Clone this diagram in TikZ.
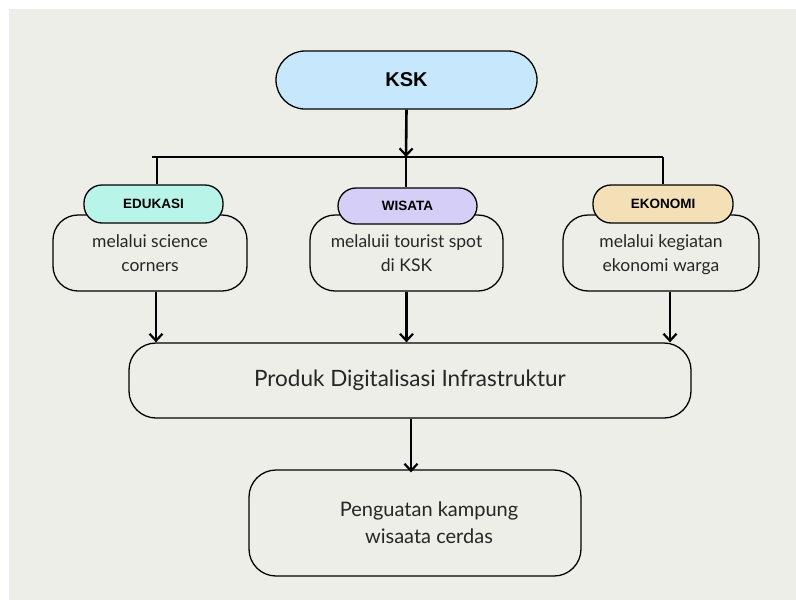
\documentclass[tikz,border=0pt]{standalone}
\usepackage{fontspec}
\setmainfont{Lato}
\newfontfamily\boldf{Liberation Sans}
\usetikzlibrary{arrows.meta}
\definecolor{bg}{HTML}{EEEEE9}
\definecolor{kskc}{HTML}{C6E7FC}
\definecolor{educ}{HTML}{B8F5E8}
\definecolor{wisc}{HTML}{D5CEF7}
\definecolor{ekoc}{HTML}{F3E0B7}
\begin{document}
\begin{tikzpicture}[x=1pt,y=-1pt,
  body/.style={draw, line width=1.3pt, rounded corners=25pt, fill=bg, align=center,
    font=\fontsize{17.5}{24}\selectfont, inner sep=0pt, text=black!85},
  pill/.style={draw, line width=1.3pt, rounded corners=18pt, inner sep=0pt,
    font=\boldf\bfseries\fontsize{13.5}{15}\selectfont, minimum height=38pt, minimum width=139pt},
  bigbox/.style={draw, line width=1.3pt, rounded corners=27pt, fill=bg, align=center, inner sep=0pt,
    text=black!85},
  thin/.style={line width=1.2pt},
  arr/.style={line width=2.6pt, -{Straight Barb[length=7pt,width=13pt,line width=2.2pt]}}
]
\path[use as bounding box] (0,0) rectangle (796,600);
\fill[bg] (9,9) rectangle (796,600);

% top node
\node[draw, line width=1.3pt, rounded corners=29pt, fill=kskc, minimum width=261pt, minimum height=58pt,
  inner sep=0pt, font=\boldf\bfseries\fontsize{20}{24}\selectfont] (ksk) at (406.5,80) {KSK};

% branch coordinates
\coordinate (hl) at (152,157);
\coordinate (hl2) at (157,157);
\coordinate (hm) at (406,157);
\coordinate (hr) at (663,157);

% bodies
\node[body, minimum width=194pt, minimum height=76pt, text depth=-3pt] (edb) at (150,253) {melalui science\\corners};
\node[body, minimum width=193pt, minimum height=76pt, text depth=-3pt] (wib) at (406.5,253) {melaluii tourist spot\\di KSK};
\node[body, minimum width=196pt, minimum height=76pt, text depth=-3pt] (ekb) at (661,253) {melalui kegiatan\\ekonomi warga};

% pills
\node[pill, fill=educ] (edu) at (153.5,204) {EDUKASI};
\node[pill, fill=wisc, minimum height=36pt] (wis) at (407.5,206) {WISATA};
\node[pill, fill=ekoc, minimum width=140pt] (eko) at (663,204) {EKONOMI};

% lower boxes
\node[bigbox, minimum width=562pt, minimum height=75pt, font=\fontsize{22.5}{26}\selectfont] (prod) at (410,380.5)
  {Produk Digitalisasi Infrastruktur};
\node[bigbox, minimum width=332pt, minimum height=106pt, font=\fontsize{20}{27}\selectfont] (peng) at (415,523)
  {\hspace*{28pt}Penguatan kampung\\\hspace*{28pt}wisaata cerdas};

% connectors
\draw[arr] (ksk.south) -- (hm);
\draw[thin] (hl) -- (hr);
\draw[thin] (hl2) -- (edu.north -| hl2);
\draw[thin] (hm) -- (wis.north -| hm);
\draw[thin] (hr) -- (eko.north -| hr);

\draw[arr] ([xshift=6pt]edb.south) -- ([xshift=6pt]edb.south |- prod.north);
\draw[arr] (wib.south) -- (wib.south |- prod.north);
\draw[arr] ([xshift=9pt]ekb.south) -- ([xshift=9pt]ekb.south |- prod.north);
\draw[arr] ([xshift=1pt]prod.south) -- ([xshift=1pt,yshift=-3pt]prod.south |- peng.north);
\end{tikzpicture}
\end{document}
